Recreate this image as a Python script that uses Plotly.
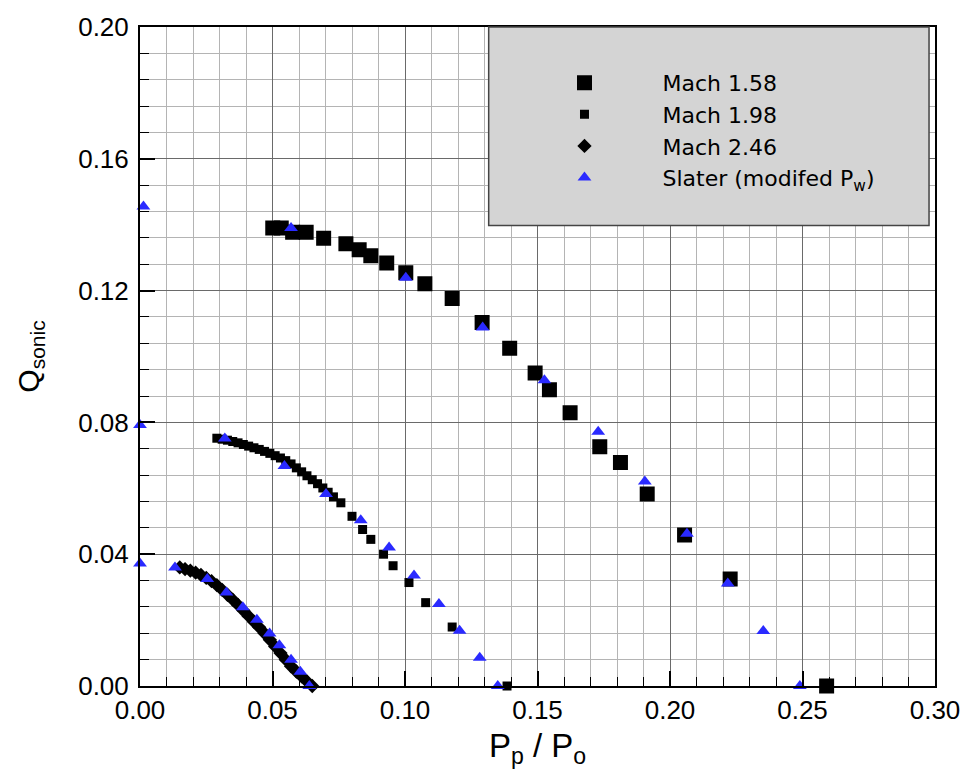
import plotly.graph_objects as go

# ---- data ----
m158_x = [0.0501, 0.0533, 0.0576, 0.0627, 0.0693, 0.0777, 0.0827, 0.0871, 0.0931, 0.1003,
          0.1075, 0.1178, 0.1291, 0.1395, 0.1491, 0.1545, 0.1623, 0.1735, 0.1813, 0.1914,
          0.2055, 0.2227, 0.2591]
m158_y = [0.1390, 0.1390, 0.1377, 0.1377, 0.1359, 0.1342, 0.1324, 0.1306, 0.1284, 0.1254,
          0.1221, 0.1176, 0.1103, 0.1025, 0.0950, 0.0899, 0.0829, 0.0726, 0.0678, 0.0583,
          0.0458, 0.0325, 0.0]

m198_x = [0.029, 0.031, 0.033, 0.035, 0.037, 0.039, 0.041, 0.043, 0.045, 0.047, 0.049,
          0.051, 0.053, 0.055, 0.057, 0.059, 0.061, 0.063, 0.065, 0.067, 0.069, 0.071,
          0.073, 0.0758, 0.0800, 0.0840, 0.0871, 0.0919, 0.0955, 0.1015, 0.1078, 0.1178, 0.1385]
m198_y = [0.0752, 0.0749, 0.0746, 0.0742, 0.0738, 0.0733, 0.0728, 0.0723, 0.0718, 0.0712,
          0.0706, 0.0699, 0.0692, 0.0684, 0.0674, 0.0662, 0.0650, 0.0638, 0.0626, 0.0614,
          0.0601, 0.0588, 0.0574, 0.0556, 0.0515, 0.0475, 0.0445, 0.0400, 0.0365, 0.0314,
          0.0253, 0.0179, 0.0]

m246_x = [0.015, 0.017, 0.019, 0.021, 0.023, 0.025, 0.027, 0.029, 0.031, 0.033, 0.035,
          0.037, 0.039, 0.041, 0.043, 0.045, 0.047, 0.049, 0.051, 0.053, 0.055, 0.057,
          0.059, 0.061, 0.063, 0.065]
m246_y = [0.0360, 0.0355, 0.0350, 0.0344, 0.0337, 0.0328, 0.0318, 0.0306, 0.0292, 0.0277,
          0.0262, 0.0246, 0.0229, 0.0212, 0.0195, 0.0178, 0.0160, 0.0140, 0.0120, 0.0100,
          0.0080, 0.0060, 0.0044, 0.0029, 0.0014, 0.0]

slater_x = [0.0013, 0.0, 0.0,
            0.0570, 0.1003, 0.1293, 0.1526, 0.1729, 0.1905, 0.2064, 0.2218, 0.2352, 0.2490,
            0.0320, 0.0545, 0.0702, 0.0833, 0.0940, 0.1034, 0.1128, 0.1206, 0.1282, 0.1350,
            0.0132, 0.0254, 0.0326, 0.0388, 0.0441, 0.0489, 0.0526, 0.0570, 0.0605, 0.0639]
slater_y = [0.1455, 0.0792, 0.0372,
            0.1390, 0.1239, 0.1088, 0.0928, 0.0772, 0.0621, 0.0462, 0.0311, 0.0167, 0.0,
            0.0751, 0.0668, 0.0583, 0.0503, 0.0420, 0.0335, 0.0249, 0.0168, 0.0086, 0.0,
            0.0360, 0.0325, 0.0284, 0.0239, 0.0201, 0.0159, 0.0124, 0.0080, 0.0043, 0.0]

x_ticks = [0.00, 0.05, 0.10, 0.15, 0.20, 0.25, 0.30]
x_tick_text = ["0.00", "0.05", "0.10", "0.15", "0.20", "0.25", "0.30"]
y_ticks = [0.00, 0.04, 0.08, 0.12, 0.16, 0.20]
y_tick_text = ["0.00", "0.04", "0.08", "0.12", "0.16", "0.20"]

FONT = "Liberation Sans, Arial, sans-serif"
LFONT = "DejaVu Sans, Liberation Sans, sans-serif"
BLUE = "#2a2aff"

fig = go.Figure()
fig.add_trace(go.Scatter(x=m158_x, y=m158_y, mode="markers", name="Mach 1.58",
                         marker=dict(symbol="square", size=13, color="black",
                                     line=dict(color="black", width=2)),
                         cliponaxis=False))
fig.add_trace(go.Scatter(x=m198_x, y=m198_y, mode="markers", name="Mach 1.98",
                         marker=dict(symbol="square", size=9, color="black"),
                         cliponaxis=False))
fig.add_trace(go.Scatter(x=m246_x, y=m246_y, mode="markers", name="Mach 2.46",
                         marker=dict(symbol="diamond", size=11, color="black"),
                         cliponaxis=False))
fig.add_trace(go.Scatter(x=slater_x, y=slater_y, mode="markers",
                         name="Slater (modifed P<sub>w</sub>)",
                         marker=dict(symbol="triangle-up", size=12, color=BLUE),
                         cliponaxis=False))

axis_common = dict(
    showline=True, linecolor="black", linewidth=2, mirror=True,
    showgrid=True, gridcolor="#6a6a6a", gridwidth=1,
    ticks="inside", ticklen=15, tickwidth=1.5, tickcolor="black",
    zeroline=False,
    tickfont=dict(family=FONT, size=26, color="black"),
)

fig.update_xaxes(
    range=[0, 0.30], tickvals=x_ticks, ticktext=x_tick_text,
    minor=dict(dtick=0.01, showgrid=True, gridcolor="#b4b4b4", gridwidth=1,
               ticks="inside", ticklen=9, tickwidth=1, tickcolor="black"),
    title=dict(text="P<sub>p</sub> / P<sub>o</sub>",
               font=dict(family=FONT, size=33, color="black"), standoff=10),
    **axis_common,
)
fig.update_yaxes(
    range=[0, 0.20], tickvals=y_ticks, ticktext=y_tick_text,
    minor=dict(dtick=0.008, showgrid=True, gridcolor="#b4b4b4", gridwidth=1,
               ticks="inside", ticklen=9, tickwidth=1, tickcolor="black"),
    title=dict(text="Q<sub>sonic</sub>",
               font=dict(family=FONT, size=30, color="black"), standoff=30),
    ticklabelstandoff=4,
    **axis_common,
)

# legend box
fig.add_shape(type="rect", xref="paper", yref="paper",
              x0=0.4386, x1=0.9925, y0=0.6988, y1=1.0,
              fillcolor="#d4d4d4", line=dict(color="#444444", width=1.5), layer="above")

fig.update_layout(
    width=972, height=782,
    margin=dict(l=140, r=34, t=22, b=96),
    plot_bgcolor="white", paper_bgcolor="white",
    showlegend=True,
    legend=dict(x=0.461, y=0.947, xanchor="left", yanchor="top",
                bgcolor="rgba(0,0,0,0)", borderwidth=0,
                itemwidth=146, tracegroupgap=0,
                font=dict(family=LFONT, size=22, color="black")),
)

fig.write_html("out.html")
